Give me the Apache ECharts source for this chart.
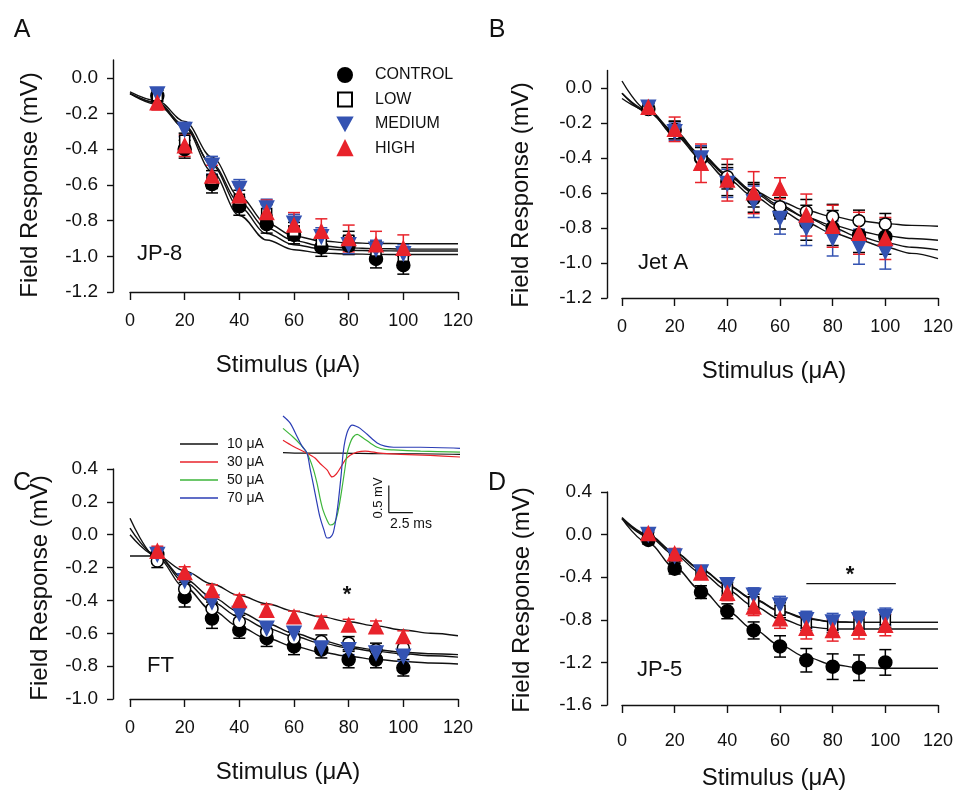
<!DOCTYPE html>
<html>
<head>
<meta charset="utf-8">
<script src="https://cdn.jsdelivr.net/npm/echarts@6/dist/echarts.min.js"></script>
<style>
  html, body { margin: 0; background: #fff; }
  #main { width: 962px; height: 795px; }
</style>
</head>
<body>
<div id="main"></div>
<script>
// stimulus intensities (uA) and x positions used for the fitted curves
var stim = [10, 20, 30, 40, 50, 60, 70, 80, 90, 100];
var fitX = [0, 10, 20, 30, 40, 50, 60, 70, 80, 90, 100, 110, 120];
var yTicksAB = [-1.2, -1.0, -0.8, -0.6, -0.4, -0.2, 0.0];
var groups = ['CONTROL', 'LOW', 'MEDIUM', 'HIGH'];

// A - JP-8
var jp8Control = [-0.10, -0.40, -0.595, -0.72, -0.82, -0.88, -0.95, -0.94, -1.015, -1.05];
var jp8Low     = [-0.10, -0.35, -0.57, -0.68, -0.76, -0.86, -0.915, -0.91, -0.97, -1.00];
var jp8Medium  = [-0.09, -0.29, -0.49, -0.62, -0.73, -0.815, -0.89, -0.935, -0.96, -0.985];
var jp8High    = [-0.14, -0.38, -0.55, -0.66, -0.755, -0.825, -0.86, -0.90, -0.935, -0.955];
var jp8ControlErr = [0.03, 0.05, 0.05, 0.05, 0.05, 0.05, 0.05, 0.05, 0.05, 0.05];
var jp8LowErr     = [0.03, 0.04, 0.05, 0.05, 0.05, 0.05, 0.05, 0.05, 0.05, 0.05];
var jp8MediumErr  = [0.03, 0.04, 0.05, 0.05, 0.05, 0.05, 0.05, 0.05, 0.05, 0.05];
var jp8HighErr    = [0.04, 0.06, 0.06, 0.06, 0.07, 0.07, 0.07, 0.075, 0.075, 0.075];
var jp8FitControl = [-0.087, -0.141, -0.279, -0.525, -0.771, -0.909, -0.963, -0.982, -0.987, -0.989, -0.990, -0.990, -0.990];
var jp8FitLow     = [-0.088, -0.140, -0.267, -0.490, -0.725, -0.872, -0.935, -0.958, -0.966, -0.969, -0.970, -0.970, -0.970];
var jp8FitMedium  = [-0.079, -0.129, -0.244, -0.444, -0.665, -0.815, -0.886, -0.914, -0.924, -0.928, -0.929, -0.930, -0.930];
var jp8FitHigh    = [-0.089, -0.149, -0.277, -0.482, -0.697, -0.842, -0.912, -0.942, -0.953, -0.957, -0.959, -0.960, -0.960];

// B - Jet A
var jetAControl = [-0.12, -0.24, -0.40, -0.535, -0.63, -0.716, -0.77, -0.80, -0.84, -0.85];
var jetALow     = [-0.12, -0.24, -0.40, -0.507, -0.61, -0.678, -0.707, -0.735, -0.758, -0.777];
var jetAMedium  = [-0.11, -0.25, -0.40, -0.545, -0.65, -0.745, -0.80, -0.86, -0.907, -0.935];
var jetAHigh    = [-0.11, -0.236, -0.43, -0.526, -0.598, -0.573, -0.726, -0.79, -0.83, -0.86];
var jetAControlErr = [0.03, 0.05, 0.07, 0.08, 0.08, 0.09, 0.10, 0.10, 0.10, 0.10];
var jetALowErr     = [0.03, 0.05, 0.06, 0.07, 0.07, 0.07, 0.07, 0.07, 0.06, 0.06];
var jetAMediumErr  = [0.03, 0.05, 0.07, 0.08, 0.09, 0.09, 0.10, 0.10, 0.10, 0.10];
var jetAHighErr    = [0.03, 0.07, 0.11, 0.12, 0.12, 0.06, 0.12, 0.12, 0.12, 0.12];
var jetAFitControl = [-0.06, -0.13, -0.25, -0.38, -0.50, -0.60, -0.68, -0.74, -0.785, -0.82, -0.845, -0.86, -0.87];
var jetAFitLow     = [-0.03, -0.13, -0.26, -0.39, -0.50, -0.59, -0.65, -0.70, -0.735, -0.76, -0.775, -0.785, -0.79];
var jetAFitMedium  = [0.04, -0.13, -0.27, -0.40, -0.52, -0.62, -0.70, -0.77, -0.83, -0.87, -0.91, -0.945, -0.975];
var jetAFitHigh    = [-0.03, -0.14, -0.26, -0.38, -0.49, -0.59, -0.67, -0.74, -0.80, -0.85, -0.885, -0.91, -0.925];

// C - FT
var ftControl = [-0.12, -0.38, -0.51, -0.58, -0.63, -0.68, -0.70, -0.76, -0.76, -0.81];
var ftLow     = [-0.16, -0.33, -0.45, -0.53, -0.59, -0.63, -0.65, -0.66, -0.70, -0.69];
var ftMedium  = [-0.12, -0.28, -0.41, -0.48, -0.57, -0.60, -0.69, -0.70, -0.72, -0.74];
var ftHigh    = [-0.10, -0.23, -0.34, -0.40, -0.46, -0.50, -0.53, -0.55, -0.56, -0.62];
var ftControlErr = [0.04, 0.06, 0.06, 0.05, 0.05, 0.05, 0.05, 0.05, 0.05, 0.05];
var ftLowErr     = [0.04, 0.04, 0.04, 0.04, 0.04, 0.04, 0.04, 0.04, 0.04, 0.04];
var ftMediumErr  = [0.03, 0.03, 0.03, 0.03, 0.03, 0.03, 0.03, 0.03, 0.03, 0.03];
var ftHighErr    = [0.03, 0.035, 0.035, 0.035, 0.035, 0.035, 0.035, 0.035, 0.035, 0.035];
var ftFitControl = [0.10, -0.14, -0.32, -0.46, -0.56, -0.63, -0.68, -0.715, -0.74, -0.76, -0.772, -0.781, -0.787];
var ftFitLow     = [0.04, -0.13, -0.29, -0.41, -0.50, -0.57, -0.62, -0.66, -0.69, -0.71, -0.725, -0.737, -0.745];
var ftFitMedium  = [0.00, -0.13, -0.27, -0.38, -0.47, -0.54, -0.60, -0.645, -0.68, -0.70, -0.715, -0.725, -0.73];
var ftFitHigh    = [-0.13, -0.13, -0.22, -0.30, -0.37, -0.42, -0.465, -0.50, -0.53, -0.555, -0.58, -0.60, -0.615];

// D - JP-5
var jp5Control = [-0.05, -0.32, -0.54, -0.72, -0.90, -1.05, -1.18, -1.24, -1.25, -1.20];
var jp5Low     = [-0.01, -0.21, -0.37, -0.51, -0.63, -0.71, -0.83, -0.85, -0.84, -0.80];
var jp5Medium  = [0.00, -0.20, -0.35, -0.47, -0.57, -0.66, -0.80, -0.82, -0.80, -0.77];
var jp5High    = [0.01, -0.18, -0.36, -0.55, -0.68, -0.79, -0.88, -0.90, -0.88, -0.85];
var jp5ControlErr = [0.04, 0.05, 0.06, 0.07, 0.08, 0.10, 0.11, 0.12, 0.12, 0.12];
var jp5LowErr     = [0.03, 0.04, 0.05, 0.06, 0.07, 0.07, 0.07, 0.07, 0.07, 0.07];
var jp5MediumErr  = [0.03, 0.05, 0.05, 0.06, 0.07, 0.08, 0.08, 0.08, 0.08, 0.08];
var jp5HighErr    = [0.03, 0.05, 0.06, 0.07, 0.08, 0.09, 0.10, 0.10, 0.10, 0.10];
var jp5FitControl = [0.15, -0.08, -0.31, -0.52, -0.72, -0.89, -1.04, -1.15, -1.22, -1.25, -1.255, -1.255, -1.255];
var jp5FitLow     = [0.15, -0.01, -0.17, -0.33, -0.48, -0.61, -0.72, -0.79, -0.82, -0.824, -0.824, -0.824, -0.824];
var jp5FitMedium  = [0.16, 0.00, -0.165, -0.325, -0.475, -0.605, -0.715, -0.785, -0.818, -0.824, -0.824, -0.824, -0.824];
var jp5FitHigh    = [0.15, -0.02, -0.19, -0.36, -0.52, -0.67, -0.79, -0.865, -0.886, -0.886, -0.886, -0.886, -0.886];
var jp5SigX = [70, 104];
var jp5SigY = -0.46;

// inset: field potential traces, [time (ms), voltage (mV)]
var traceNames = ['10 μA', '30 μA', '50 μA', '70 μA'];
var trace10 = [[0, 0.01], [2, 0.0], [6, 0.0], [10, -0.01], [14, -0.01], [18.4, -0.02]];
var trace30 = [[0, 0.24], [1.04, 0.13], [2.5, 0.0], [3.33, -0.09], [3.85, -0.19], [4.58, -0.31], [5.1, -0.44],
  [5.52, -0.39], [5.94, -0.28], [6.46, -0.13], [6.98, -0.04], [7.7, 0.02], [8.54, 0.04], [10.1, 0.0],
  [12.2, -0.02], [15.3, -0.04], [18.4, -0.07]];
var trace50 = [[0, 0.46], [1.04, 0.30], [1.77, 0.17], [2.5, 0.0], [3.13, -0.28], [3.54, -0.56], [3.85, -0.83],
  [4.17, -1.06], [4.58, -1.24], [4.9, -1.33], [5.31, -1.30], [5.63, -1.15], [5.94, -0.87], [6.15, -0.63],
  [6.46, -0.26], [6.67, 0.0], [6.98, 0.19], [7.29, 0.30], [7.71, 0.35], [8.33, 0.28], [9.06, 0.19],
  [9.79, 0.11], [10.6, 0.07], [11.5, 0.06], [14.3, 0.04], [18.4, 0.02]];
var trace70 = [[0, 0.69], [0.73, 0.56], [1.46, 0.31], [1.98, 0.13], [2.5, 0.0], [2.81, -0.28], [3.13, -0.56],
  [3.54, -0.93], [3.85, -1.19], [4.27, -1.43], [4.58, -1.57], [4.9, -1.56], [5.21, -1.48], [5.52, -1.20],
  [5.73, -0.93], [6.04, -0.41], [6.25, 0.0], [6.46, 0.24], [6.77, 0.43], [7.19, 0.52], [7.6, 0.50],
  [8.02, 0.46], [8.75, 0.35], [9.79, 0.19], [10.6, 0.13], [11.5, 0.11], [14.3, 0.11], [18.4, 0.09]];
var scaleBarT = 11.0, scaleBarV = -1.1, scaleBarMs = 2.5, scaleBarMv = 0.5;

var font = 'Liberation Sans, Arial, sans-serif';
var ink = '#111';
var blue = '#3453b2';
var red = '#e8232b';
var traceColors = ['#111', '#e8232b', '#3db53a', '#2b3db5'];

var panels = [
  { id: 'A', low: 'rect', grid: { left: 130, top: 60, width: 328, height: 232 },
    yMin: -1.2, yMax: 0.1, yStep: 0.2, yTicks: yTicksAB, yOffset: 17, xMargin: 20,
    letterX: 22, letterY: 30, titleX: 30, titleY: 185,
    means: [jp8Control, jp8Low, jp8Medium, jp8High],
    errs: [jp8ControlErr, jp8LowErr, jp8MediumErr, jp8HighErr],
    fits: [jp8FitControl, jp8FitLow, jp8FitMedium, jp8FitHigh] },
  { id: 'B', low: 'circle', grid: { left: 622, top: 70.5, width: 316, height: 227.5 },
    yMin: -1.2, yMax: 0.1, yStep: 0.2, yTicks: yTicksAB, yOffset: 15, xMargin: 20,
    letterX: 497, letterY: 30, titleX: 521, titleY: 195,
    means: [jetAControl, jetALow, jetAMedium, jetAHigh],
    errs: [jetAControlErr, jetALowErr, jetAMediumErr, jetAHighErr],
    fits: [jetAFitControl, jetAFitLow, jetAFitMedium, jetAFitHigh] },
  { id: 'C', low: 'circle', grid: { left: 130, top: 469, width: 328, height: 230 },
    yMin: -1.0, yMax: 0.4, yStep: 0.2, yTicks: null, yOffset: 17, xMargin: 20,
    letterX: 22, letterY: 483, titleX: 40, titleY: 588,
    means: [ftControl, ftLow, ftMedium, ftHigh],
    errs: [ftControlErr, ftLowErr, ftMediumErr, ftHighErr],
    fits: [ftFitControl, ftFitLow, ftFitMedium, ftFitHigh] },
  { id: 'D', low: 'rect', grid: { left: 622, top: 492, width: 316, height: 213 },
    yMin: -1.6, yMax: 0.4, yStep: 0.4, yTicks: null, yOffset: 15, xMargin: 27,
    letterX: 497, letterY: 483, titleX: 522, titleY: 600,
    means: [jp5Control, jp5Low, jp5Medium, jp5High],
    errs: [jp5ControlErr, jp5LowErr, jp5MediumErr, jp5HighErr],
    fits: [jp5FitControl, jp5FitLow, jp5FitMedium, jp5FitHigh] }
];

function markerFor(g, p) {
  if (g === 0) return { symbol: 'circle', size: 13, rotate: 0, fill: '#000', border: '#000', bar: '#000' };
  if (g === 1) return { symbol: p.low, size: p.low === 'rect' ? 10 : 12, rotate: 0, fill: '#fff', border: '#000', bar: '#000' };
  if (g === 2) return { symbol: 'triangle', size: 14, rotate: 180, fill: blue, border: blue, bar: blue };
  return { symbol: 'triangle', size: 14, rotate: 0, fill: red, border: red, bar: red };
}

function errorBars(idx, color, means, errs) {
  return {
    type: 'custom', name: 'err', xAxisIndex: idx, yAxisIndex: idx, silent: true, z: 3,
    encode: { x: 0, y: [1, 2] },
    data: stim.map(function (x, i) { return [x, means[i] - errs[i], means[i] + errs[i]]; }),
    renderItem: function (params, api) {
      var lo = api.coord([api.value(0), api.value(1)]);
      var hi = api.coord([api.value(0), api.value(2)]);
      var w = 6;
      var st = { stroke: color, lineWidth: 1.5 };
      return { type: 'group', children: [
        { type: 'line', shape: { x1: lo[0], y1: lo[1], x2: hi[0], y2: hi[1] }, style: st },
        { type: 'line', shape: { x1: lo[0] - w, y1: lo[1], x2: lo[0] + w, y2: lo[1] }, style: st },
        { type: 'line', shape: { x1: hi[0] - w, y1: hi[1], x2: hi[0] + w, y2: hi[1] }, style: st }
      ] };
    }
  };
}

var grids = [], xAxes = [], yAxes = [], series = [], graphics = [];

panels.forEach(function (p, idx) {
  grids.push(Object.assign({ outerBoundsMode: 'none', containLabel: false }, p.grid));
  xAxes.push({
    gridIndex: idx, type: 'value', min: 0, max: 120, interval: 20,
    axisLine: { show: true, onZero: false, lineStyle: { color: ink, width: 1.4 } },
    axisTick: { show: true, length: 8, lineStyle: { color: ink, width: 1.4 } },
    axisLabel: { fontSize: 18, color: ink, margin: p.xMargin, fontFamily: font },
    splitLine: { show: false }
  });
  var yAxis = {
    gridIndex: idx, type: 'value', min: p.yMin, max: p.yMax, interval: p.yStep, offset: p.yOffset,
    axisLine: { show: true, onZero: false, lineStyle: { color: ink, width: 1.4 } },
    axisTick: { show: true, length: 6, lineStyle: { color: ink, width: 1.4 } },
    axisLabel: { fontSize: 19, color: ink, margin: 15, fontFamily: font,
      formatter: function (v) { return v.toFixed(1); } },
    splitLine: { show: false }
  };
  if (p.yTicks) {
    yAxis.axisTick.customValues = p.yTicks;
    yAxis.axisLabel.customValues = p.yTicks;
  }
  yAxes.push(yAxis);

  // fitted curves
  p.fits.forEach(function (f) {
    series.push({
      type: 'line', name: 'fit', xAxisIndex: idx, yAxisIndex: idx, silent: true, z: 2,
      data: fitX.map(function (x, i) { return [x, f[i]]; }),
      symbol: 'none', smooth: 0.35, smoothMonotone: 'x',
      lineStyle: { color: ink, width: 1.4 }
    });
  });

  // error bars + means
  groups.forEach(function (g, gi) {
    var m = markerFor(gi, p);
    series.push(errorBars(idx, m.bar, p.means[gi], p.errs[gi]));
    series.push({
      type: 'scatter', name: idx === 0 ? g : p.id + ' ' + g, xAxisIndex: idx, yAxisIndex: idx, z: 3,
      data: stim.map(function (x, i) { return [x, p.means[gi][i]]; }),
      symbol: m.symbol, symbolSize: m.size, symbolRotate: m.rotate,
      itemStyle: { color: m.fill, borderColor: m.border, borderWidth: 1.5, opacity: 1 }
    });
  });

  // panel letter and axis titles
  var gx = p.grid.left, gy = p.grid.top + p.grid.height;
  graphics.push({ type: 'text', x: p.letterX, y: p.letterY, style: {
    text: p.id, font: '25px ' + font, fill: ink, textAlign: 'center', textVerticalAlign: 'middle' } });
  graphics.push({ type: 'text', x: p.titleX, y: p.titleY, rotation: Math.PI / 2, style: {
    text: 'Field Response (mV)', font: '24px ' + font, fill: ink, textAlign: 'center', textVerticalAlign: 'middle' } });
  graphics.push({ type: 'text', x: gx + p.grid.width / 2 - 6, y: gy + 73, style: {
    text: 'Stimulus (μA)', font: '24px ' + font, fill: ink, textAlign: 'center', textVerticalAlign: 'middle' } });
});

// panel names
graphics.push({ type: 'text', x: 137, y: 254, style: { text: 'JP-8', font: '22px ' + font, fill: ink, textVerticalAlign: 'middle' } });
graphics.push({ type: 'text', x: 638, y: 263, style: { text: 'Jet A', font: '22px ' + font, fill: ink, textVerticalAlign: 'middle' } });
graphics.push({ type: 'text', x: 147, y: 666, style: { text: 'FT', font: '22px ' + font, fill: ink, textVerticalAlign: 'middle' } });
graphics.push({ type: 'text', x: 637, y: 670, style: { text: 'JP-5', font: '22px ' + font, fill: ink, textVerticalAlign: 'middle' } });
// significance marks
graphics.push({ type: 'text', x: 347, y: 595, style: { text: '*', font: 'bold 22px ' + font, fill: ink, textAlign: 'center', textVerticalAlign: 'middle' } });
graphics.push({ type: 'text', x: 850, y: 575, style: { text: '*', font: 'bold 22px ' + font, fill: ink, textAlign: 'center', textVerticalAlign: 'middle' } });
// inset scale bar labels
graphics.push({ type: 'text', x: 378, y: 498, rotation: Math.PI / 2, style: { text: '0.5 mV', font: '13px ' + font, fill: ink, textAlign: 'center', textVerticalAlign: 'middle' } });
graphics.push({ type: 'text', x: 411, y: 524, style: { text: '2.5 ms', font: '14px ' + font, fill: ink, textAlign: 'center', textVerticalAlign: 'middle' } });

// significance bar in D
series.push({
  type: 'line', name: 'sig', xAxisIndex: 3, yAxisIndex: 3, silent: true, symbol: 'none',
  data: jp5SigX.map(function (x) { return [x, jp5SigY]; }),
  lineStyle: { color: ink, width: 1.3 }
});

// inset grid
grids.push({ left: 283, top: 410, width: 177, height: 135, outerBoundsMode: 'none', containLabel: false });
xAxes.push({ gridIndex: 4, type: 'value', min: 0, max: 18.4, show: false });
yAxes.push({ gridIndex: 4, type: 'value', min: -1.7, max: 0.8, show: false });
[trace10, trace30, trace50, trace70].forEach(function (t, i) {
  series.push({
    type: 'line', name: traceNames[i], xAxisIndex: 4, yAxisIndex: 4, silent: true,
    data: t, symbol: 'none', smooth: 0.3,
    itemStyle: { color: traceColors[i] },
    lineStyle: { color: traceColors[i], width: 1.2 }
  });
});
series.push({
  type: 'line', name: 'scale', xAxisIndex: 4, yAxisIndex: 4, silent: true, symbol: 'none',
  data: [[scaleBarT, scaleBarV + scaleBarMv], [scaleBarT, scaleBarV], [scaleBarT + scaleBarMs, scaleBarV]],
  lineStyle: { color: ink, width: 1.2 }
});

var chart = echarts.init(document.getElementById('main'));
chart.setOption({
  backgroundColor: '#fff',
  animation: false,
  textStyle: { fontFamily: font },
  grid: grids,
  xAxis: xAxes,
  yAxis: yAxes,
  legend: [
    {
      data: [{ name: 'CONTROL' }, { name: 'LOW' }, { name: 'MEDIUM', icon: 'path://M0,0L10,0L5,9Z' }, { name: 'HIGH' }],
      orient: 'vertical', left: 332, top: 62, itemWidth: 14, itemHeight: 14, itemGap: 8.4,
      selectedMode: false,
      textStyle: { fontSize: 16, color: ink, fontFamily: font, padding: [0, 0, 0, 18] }
    },
    {
      data: traceNames, icon: 'rect',
      orient: 'vertical', left: 175, top: 432, itemWidth: 38, itemHeight: 1.5, itemGap: 4,
      selectedMode: false,
      textStyle: { fontSize: 14, color: ink, fontFamily: font, padding: [0, 0, 0, 4] }
    }
  ],
  graphic: graphics,
  series: series
});
</script>
</body>
</html>
